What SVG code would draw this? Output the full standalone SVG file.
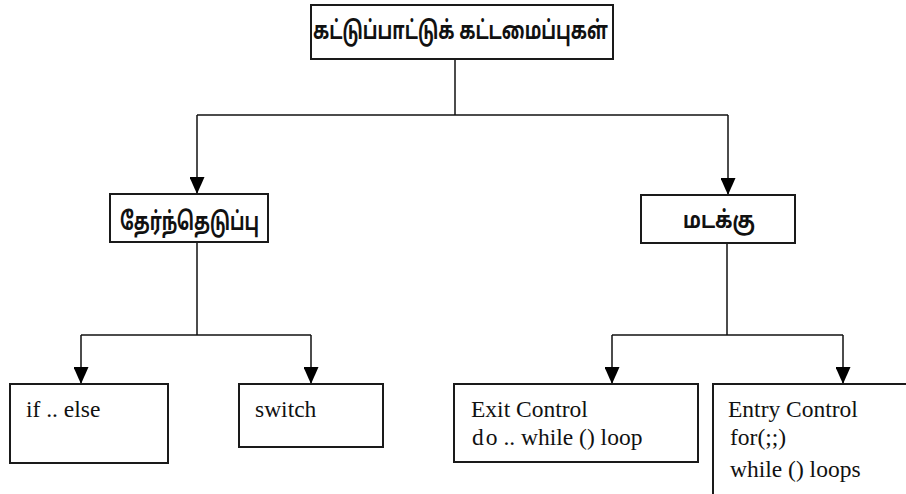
<svg xmlns="http://www.w3.org/2000/svg" width="906" height="494" viewBox="0 0 906 494">
<defs>
<style>
.box{fill:#fff;stroke:#1a1a1a;stroke-width:2}
.ln{fill:none;stroke:#111;stroke-width:1.5}
.ta{font-family:"Noto Sans Tamil","Lohit Tamil","Noto Sans",sans-serif;font-weight:bold;fill:#111}
.en{font-family:"Liberation Serif","DejaVu Serif",serif;font-size:23.5px;fill:#111}
</style>
<marker id="arr" markerUnits="userSpaceOnUse" markerWidth="17" markerHeight="15" refX="17" refY="7.5" orient="auto" viewBox="0 0 17 15">
<path d="M0,0 L17,7.5 L0,15 z" fill="#000"/>
</marker>
</defs>
<g id="connectors">
<path class="ln" d="M455,59 V115"/>
<path class="ln" d="M197,115 H728"/>
<path class="ln" d="M197,115 V194" marker-end="url(#arr)"/>
<path class="ln" d="M728,115 V195" marker-end="url(#arr)"/>
<path class="ln" d="M197,242 V335"/>
<path class="ln" d="M81,335 H311"/>
<path class="ln" d="M81,335 V384" marker-end="url(#arr)"/>
<path class="ln" d="M311,335 V384" marker-end="url(#arr)"/>
<path class="ln" d="M727,243 V335"/>
<path class="ln" d="M612,335 H843"/>
<path class="ln" d="M612,335 V384" marker-end="url(#arr)"/>
<path class="ln" d="M843,335 V384" marker-end="url(#arr)"/>
</g>
<g id="root">
<rect class="box" x="311" y="5" width="302" height="54"/>
<text class="ta" x="313" y="39" font-size="25" textLength="295" lengthAdjust="spacingAndGlyphs">கட்டுப்பாட்டுக் கட்டமைப்புகள்</text>
</g>
<g id="selection">
<rect class="box" x="110" y="194" width="158" height="48"/>
<text class="ta" x="120" y="230" font-size="25" textLength="139" lengthAdjust="spacingAndGlyphs">தேர்ந்தெடுப்பு</text>
</g>
<g id="loop">
<rect class="box" x="641" y="195" width="154" height="48"/>
<text class="ta" x="683" y="228" font-size="24" textLength="72" lengthAdjust="spacingAndGlyphs">மடக்கு</text>
</g>
<g id="ifelse">
<rect class="box" x="10" y="384" width="158" height="79"/>
<text class="en" x="26" y="417">if .. else</text>
</g>
<g id="switch">
<rect class="box" x="239" y="384" width="144" height="63"/>
<text class="en" x="255" y="417">switch</text>
</g>
<g id="exit">
<rect class="box" x="454" y="384" width="244" height="78"/>
<text class="en" x="471" y="417">Exit Control</text>
<text class="en" x="472" y="445">d<tspan dx="2">o .. while () loop</tspan></text>
</g>
<g id="entry">
<rect class="box" x="713" y="384" width="200" height="120"/>
<text class="en" x="728" y="417">Entry Control</text>
<text class="en" x="730" y="445">for(;;)</text>
<text class="en" x="730" y="477">while () loops</text>
</g>
</svg>
